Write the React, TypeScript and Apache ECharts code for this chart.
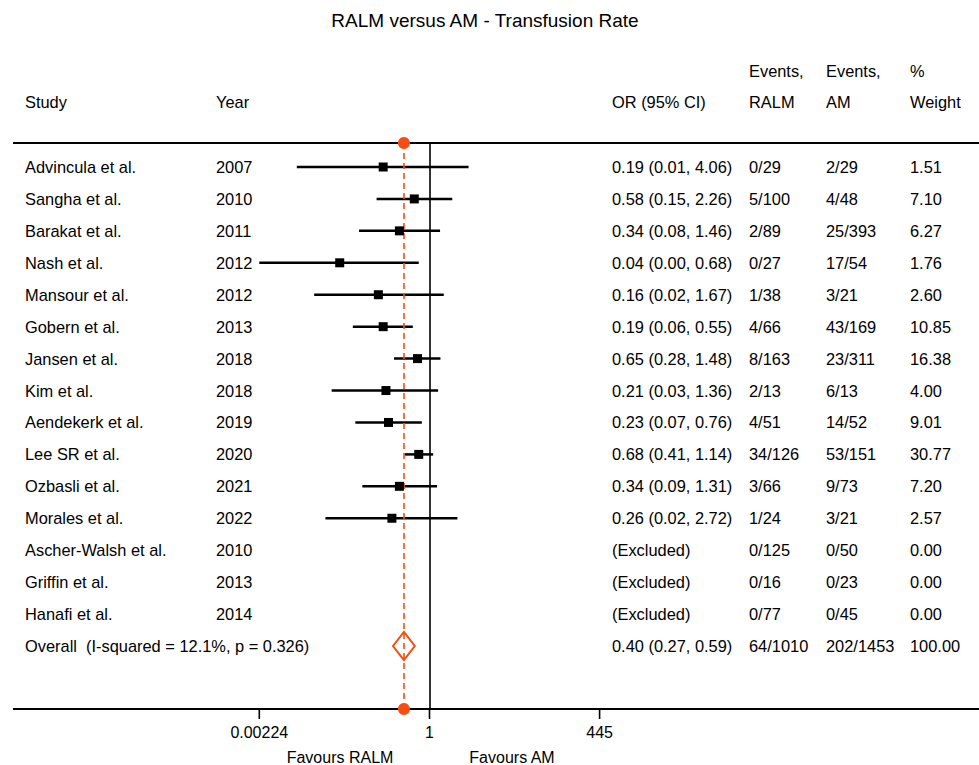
import React, { useEffect, useRef } from "react";
import * as echarts from "echarts";

const chartTitle = "RALM versus AM - Transfusion Rate";
const studies = [
  "Advincula et al.", "Sangha et al.", "Barakat et al.", "Nash et al.", "Mansour et al.",
  "Gobern et al.", "Jansen et al.", "Kim et al.", "Aendekerk et al.", "Lee SR et al.",
  "Ozbasli et al.", "Morales et al.", "Ascher-Walsh et al.", "Griffin et al.", "Hanafi et al.",
];
const years = ["2007", "2010", "2011", "2012", "2012", "2013", "2018", "2018", "2019", "2020", "2021", "2022", "2010", "2013", "2014"];
const oddsRatios = [0.19, 0.58, 0.34, 0.04, 0.16, 0.19, 0.65, 0.21, 0.23, 0.68, 0.34, 0.26, null, null, null];
const lowerCI = [0.0086, 0.15, 0.08, 0.0, 0.016, 0.064, 0.28, 0.03, 0.07, 0.41, 0.09, 0.024, null, null, null];
const upperCI = [4.06, 2.26, 1.46, 0.68, 1.67, 0.55, 1.48, 1.36, 0.76, 1.14, 1.31, 2.72, null, null, null];
const eventsRALM = ["0/29", "5/100", "2/89", "0/27", "1/38", "4/66", "8/163", "2/13", "4/51", "34/126", "3/66", "1/24", "0/125", "0/16", "0/77"];
const eventsAM = ["2/29", "4/48", "25/393", "17/54", "3/21", "43/169", "23/311", "6/13", "14/52", "53/151", "9/73", "3/21", "0/50", "0/23", "0/45"];
const weights = ["1.51", "7.10", "6.27", "1.76", "2.60", "10.85", "16.38", "4.00", "9.01", "30.77", "7.20", "2.57", "0.00", "0.00", "0.00"];

const overallLabel = "Overall  (I-squared = 12.1%, p = 0.326)";
const overallOR = 0.4;
const overallLower = 0.27;
const overallUpper = 0.59;
const overallRALM = "64/1010";
const overallAM = "202/1453";
const overallWeight = "100.00";

const tickValues = [0.00224, 1, 445];
const tickLabels = ["0.00224", "1", "445"];
const favourLabels = ["Favours RALM", "Favours AM"];

const headerTop = ["", "", "", "Events,", "Events,", "%"];
const headerBottom = ["Study", "Year", "OR (95% CI)", "RALM", "AM", "Weight"];

// layout
const W = 979;
const H = 765;
const GRID_LEFT = 259.3;
const GRID_RIGHT = W - 599.6;
const GRID_TOP = 143;
const GRID_BOTTOM = H - 709;
const COL_X = [25, 216, 612, 749, 826, 910];
const FONT = '"Liberation Sans", Arial, Helvetica, sans-serif';
const TABLE_FS = 16.4;
const AXIS_FS = 16;
const ORANGE = "#f84d12";
const TICK_LEN = 10;

const lg = (v: number) => Math.log10(v);
const X_MIN = lg(tickValues[0]);
const X_MAX = lg(tickValues[tickValues.length - 1]);
const clampX = (v: number) => (v <= 0 ? X_MIN : Math.max(X_MIN, Math.min(X_MAX, lg(v))));
const fmt = (v: number) => v.toFixed(2);

const nRows = studies.length; // overall row index = nRows
const Y_MIN = -0.7516;
const Y_MAX = nRows + 1.973;

export default function App() {
  const ref = useRef<HTMLDivElement>(null);

  useEffect(() => {
    if (!ref.current) return;
    const chart = echarts.init(ref.current, undefined, { renderer: "svg" });

    const tableRows: string[][] = studies.map((s, i) => {
      const o = oddsRatios[i];
      const orText =
        o == null ? "(Excluded)" : `${fmt(o)} (${fmt(lowerCI[i] as number)}, ${fmt(upperCI[i] as number)})`;
      return [s, years[i], orText, eventsRALM[i], eventsAM[i], weights[i]];
    });
    tableRows.push([
      overallLabel,
      "",
      `${fmt(overallOR)} (${fmt(overallLower)}, ${fmt(overallUpper)})`,
      overallRALM,
      overallAM,
      overallWeight,
    ]);

    const ciData: number[][] = [];
    const pointData: number[][] = [];
    studies.forEach((_, i) => {
      const o = oddsRatios[i];
      if (o == null) return;
      ciData.push([clampX(lowerCI[i] as number), clampX(upperCI[i] as number), i]);
      pointData.push([lg(o), i]);
    });

    const textStyle = { fontFamily: FONT, fontSize: TABLE_FS, fill: "#000" };
    const axisTextStyle = { fontFamily: FONT, fontSize: AXIS_FS, fill: "#000" };

    const headerGraphics: any[] = [];
    headerTop.forEach((t, k) => {
      if (!t) return;
      headerGraphics.push({ type: "text", x: COL_X[k], y: 71, style: { ...textStyle, text: t, verticalAlign: "middle" } });
    });
    headerBottom.forEach((t, k) => {
      headerGraphics.push({ type: "text", x: COL_X[k], y: 102, style: { ...textStyle, text: t, verticalAlign: "middle" } });
    });

    const option: any = {
      animation: false,
      grid: { left: GRID_LEFT, right: GRID_RIGHT, top: GRID_TOP, bottom: GRID_BOTTOM },
      xAxis: {
        type: "value",
        min: X_MIN,
        max: X_MAX,
        axisLine: { show: false, onZero: false },
        splitLine: { show: false },
        axisTick: { show: false },
        axisLabel: {
          color: "#000",
          fontFamily: FONT,
          fontSize: AXIS_FS,
          margin: 15,
          customValues: tickValues.map(lg),
          formatter: (v: number) => {
            let best = 0;
            tickValues.forEach((t, k) => {
              if (Math.abs(lg(t) - v) < Math.abs(lg(tickValues[best]) - v)) best = k;
            });
            return tickLabels[best];
          },
        },
      },
      yAxis: {
        type: "value",
        inverse: true,
        min: Y_MIN,
        max: Y_MAX,
        show: false,
      },
      graphic: [
        {
          type: "text",
          x: 485,
          y: 20,
          style: { fontFamily: FONT, fontSize: 19, fill: "#000", text: chartTitle, align: "center", verticalAlign: "middle" },
        },
        { type: "line", shape: { x1: 13, y1: GRID_TOP, x2: W, y2: GRID_TOP }, style: { stroke: "#000", lineWidth: 2 }, z: 1 },
        { type: "line", shape: { x1: 13, y1: H - GRID_BOTTOM, x2: W, y2: H - GRID_BOTTOM }, style: { stroke: "#000", lineWidth: 2 }, z: 1 },
        ...headerGraphics,
        { type: "text", x: 340, y: 757, style: { ...axisTextStyle, text: favourLabels[0], align: "center", verticalAlign: "middle" } },
        { type: "text", x: 512, y: 757, style: { ...axisTextStyle, text: favourLabels[1], align: "center", verticalAlign: "middle" } },
      ],
      series: [
        {
          type: "line",
          data: [],
          markLine: {
            silent: true,
            symbol: ["none", "none"],
            label: { show: false },
            lineStyle: { color: "#000", width: 1.6, type: "solid" },
            data: [[{ coord: [0, Y_MIN] }, { coord: [0, Y_MAX] }]],
          },
          z: 2,
        },
        {
          type: "line",
          data: [],
          markLine: {
            silent: true,
            symbol: ["circle", "circle"],
            symbolSize: 12,
            label: { show: false },
            lineStyle: { color: ORANGE, width: 1.6, type: [6, 4] },
            itemStyle: { color: ORANGE },
            data: [[{ coord: [lg(overallOR), Y_MIN] }, { coord: [lg(overallOR), Y_MAX] }]],
          },
          z: 3,
        },
        {
          // axis ticks (drawn below the bottom rule)
          type: "custom",
          clip: false,
          silent: true,
          data: tickValues.map((t) => [lg(t), Y_MAX]),
          encode: { x: 0, y: 1 },
          renderItem: (params: any, api: any) => {
            const p = api.coord([api.value(0), api.value(1)]);
            return {
              type: "line",
              shape: { x1: p[0], y1: p[1], x2: p[0], y2: p[1] + TICK_LEN },
              style: { stroke: "#000", lineWidth: 1.6 },
            };
          },
          z: 2,
        },
        {
          type: "custom",
          data: ciData,
          encode: { x: [0, 1], y: 2 },
          renderItem: (params: any, api: any) => {
            const p1 = api.coord([api.value(0), api.value(2)]);
            const p2 = api.coord([api.value(1), api.value(2)]);
            return {
              type: "line",
              shape: { x1: p1[0], y1: p1[1], x2: p2[0], y2: p2[1] },
              style: { stroke: "#000", lineWidth: 2.5 },
            };
          },
          z: 4,
        },
        {
          type: "scatter",
          data: pointData,
          symbol: "rect",
          symbolSize: 9,
          itemStyle: { color: "#000", opacity: 1 },
          z: 5,
        },
        {
          type: "custom",
          data: [[lg(overallLower), lg(overallOR), lg(overallUpper), nRows]],
          encode: { x: [0, 2], y: 3 },
          renderItem: (params: any, api: any) => {
            const row = api.value(3);
            const h = 0.44;
            const pl = api.coord([api.value(0), row]);
            const pt = api.coord([api.value(1), row - h]);
            const pr = api.coord([api.value(2), row]);
            const pb = api.coord([api.value(1), row + h]);
            return {
              type: "polygon",
              shape: { points: [pl, pt, pr, pb] },
              style: { fill: "none", stroke: ORANGE, lineWidth: 2 },
            };
          },
          z: 6,
        },
        {
          type: "custom",
          clip: false,
          data: tableRows.map((_, i) => [0, i]),
          encode: { x: 0, y: 1 },
          renderItem: (params: any, api: any) => {
            const i = params.dataIndex;
            const y = api.coord([0, api.value(1)])[1];
            return {
              type: "group",
              children: tableRows[i]
                .map((t, k) => ({ t, k }))
                .filter((c) => c.t !== "")
                .map((c) => ({
                  type: "text",
                  x: COL_X[c.k],
                  y,
                  style: { ...textStyle, text: c.t, align: "left", verticalAlign: "middle" },
                })),
            };
          },
          z: 7,
        },
      ],
    };

    chart.setOption(option);
    return () => chart.dispose();
  }, []);

  return <div ref={ref} style={{ position: "absolute", left: 0, top: 0, width: W, height: H, background: "#fff" }} />;
}
